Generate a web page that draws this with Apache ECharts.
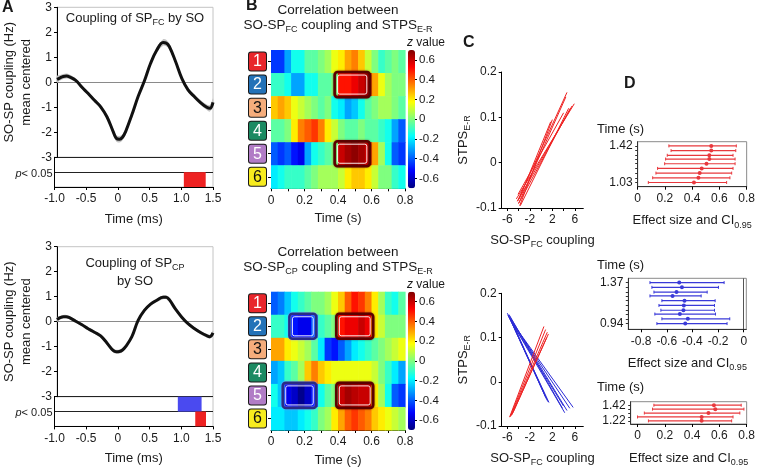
<!DOCTYPE html>
<html><head><meta charset="utf-8">
<script src="https://cdn.jsdelivr.net/npm/echarts@6/dist/echarts.min.js"></script>
<style>html,body{margin:0;padding:0;background:#fff}#c{width:758px;height:468px}</style>
</head><body><div id="c"></div><script>
// ---------------- DATA ----------------
const timeA = [-1.0,-0.95,-0.9,-0.85,-0.8,-0.7,-0.6,-0.5,-0.4,-0.3,-0.2,-0.1,-0.05,0,0.05,0.1,0.2,0.3,0.4,0.5,0.6,0.7,0.75,0.8,0.9,1.0,1.1,1.2,1.3,1.4,1.45,1.5];
const couplingFC = [0.12,0.18,0.23,0.25,0.22,0.08,-0.2,-0.45,-0.72,-0.98,-1.38,-1.97,-2.24,-2.28,-2.2,-1.97,-1.3,-0.57,0.05,0.76,1.29,1.59,1.57,1.43,0.83,0.16,-0.3,-0.57,-0.81,-1.0,-1.04,-0.8];
const semFC = [0.13,0.11,0.1,0.1,0.09,0.08,0.08,0.08,0.08,0.09,0.1,0.12,0.13,0.13,0.12,0.11,0.1,0.1,0.1,0.1,0.11,0.13,0.13,0.12,0.1,0.1,0.09,0.09,0.1,0.11,0.13,0.15];
const couplingCP = [0.09,0.16,0.2,0.2,0.16,0.02,-0.12,-0.28,-0.42,-0.57,-0.85,-1.15,-1.2,-1.19,-1.13,-1.0,-0.6,0.05,0.45,0.7,0.86,0.98,0.98,0.88,0.5,0.18,-0.08,-0.27,-0.43,-0.56,-0.6,-0.45];
const semCP = [0.08,0.07,0.07,0.07,0.06,0.06,0.06,0.06,0.06,0.06,0.07,0.08,0.08,0.08,0.08,0.07,0.07,0.07,0.07,0.07,0.07,0.08,0.08,0.08,0.07,0.07,0.06,0.06,0.07,0.07,0.08,0.1];
// significance intervals: [start, end, row(0=upper,1=lower), sign]
const sigFC = [[1.04, 1.385, 1, 1]];
const sigCP = [[0.945, 1.32, 0, -1], [1.22, 1.39, 1, 1]];

const timeBins = [0,0.04,0.08,0.12,0.16,0.2,0.24,0.28,0.32,0.36,0.4,0.44,0.48,0.52,0.56,0.6,0.64,0.68,0.72,0.76];
const rowLabels = ['1','2','3','4','5','6'];
const zFC = [
 [-0.45,-0.45,-0.3,-0.15,-0.15,-0.05,-0.05,0,0.05,0.15,0.2,0.3,0.35,0.25,0.1,0,-0.1,-0.05,0,-0.05],
 [-0.1,-0.1,-0.15,-0.3,-0.3,-0.15,-0.15,-0.05,-0.05,0,0.5,0.5,0.55,0.6,0.65,0.3,0.15,0.05,0,0],
 [0.25,0.3,0.25,0.15,0.1,0.05,0,-0.05,0,-0.15,-0.2,-0.3,-0.25,-0.15,-0.05,0,0.05,0.05,0,-0.05],
 [-0.05,-0.05,0,0.2,0.35,0.4,0.45,0.35,0.2,0.1,0,-0.05,-0.05,0,-0.05,-0.05,-0.1,-0.15,-0.3,-0.4],
 [-0.4,-0.45,-0.4,-0.5,-0.55,-0.3,-0.15,-0.1,-0.05,0,0.6,0.65,0.68,0.65,0.6,0.3,0.05,-0.15,-0.4,-0.45],
 [-0.2,-0.15,-0.1,-0.1,-0.1,-0.05,0,0.05,0.05,0.05,0.1,0.2,0.25,0.25,0.2,0.1,0,0,-0.1,-0.15]
];
const zCP = [
 [-0.4,-0.35,-0.25,-0.15,-0.1,-0.05,0,0,0.05,0.15,0.25,0.4,0.5,0.45,0.35,0.2,0.05,-0.1,-0.15,-0.05],
 [-0.1,-0.1,-0.15,-0.5,-0.55,-0.55,-0.4,-0.1,-0.05,0,0.5,0.55,0.55,0.6,0.55,0.2,0.1,0,0,0],
 [0.3,0.3,0.2,0.15,0.1,0.05,-0.05,-0.2,-0.45,-0.5,-0.4,-0.3,-0.2,-0.15,-0.1,-0.05,0,0.05,0.1,0.15],
 [-0.3,-0.25,-0.1,-0.05,0.05,0.25,0.35,0.25,0.2,0.15,0.15,0.15,0.15,0.15,0.15,0.1,0,-0.1,-0.2,-0.3],
 [-0.15,-0.25,-0.55,-0.6,-0.68,-0.6,-0.5,-0.15,-0.05,0,0.6,0.65,0.62,0.6,0.6,0.2,0.05,-0.15,-0.4,-0.45],
 [-0.2,-0.2,-0.25,-0.25,-0.2,-0.15,-0.1,0,0.05,0.2,0.3,0.4,0.45,0.4,0.35,0.25,0.2,0.15,0.1,0.05]
];
// significant clusters: [row, tStart, tEnd, sign]
const boxesFC = [[1,0.38,0.59,1],[4,0.38,0.59,1]];
const boxesCP = [[1,0.11,0.27,-1],[1,0.39,0.61,1],[4,0.07,0.27,-1],[4,0.39,0.61,1]];

// regression lines: [x0, y0, x1, y1]
const linesTopRed = [
 [-4.2,-0.085,4.6,0.155],[-4.0,-0.09,4.4,0.145],[-3.8,-0.095,2.0,0.095],[-3.9,-0.08,1.7,0.09],
 [-4.4,-0.08,5.9,0.13],[-4.2,-0.085,5.5,0.125],[-4.0,-0.09,5.2,0.12],[-3.7,-0.095,4.9,0.12],[-4.1,-0.07,4.0,0.11]
];
const linesBotBlue = [
 [-6.0,0.155,1.4,-0.047],[-5.8,0.15,1.0,-0.04],[-5.6,0.145,0.8,-0.035],[-5.9,0.15,4.2,-0.07],[-5.6,0.148,4.6,-0.065],
 [-5.4,0.14,5.1,-0.06],[-5.2,0.135,5.7,-0.058],[-5.0,0.13,4.0,-0.055],[-5.7,0.152,3.8,-0.06],[-5.3,0.14,1.2,-0.045]
];
const linesBotRed = [
 [-5.6,-0.08,0.5,0.125],[-5.4,-0.078,1.1,0.112],[-5.2,-0.075,1.3,0.108],[-5.0,-0.07,1.0,0.1],[-5.5,-0.079,0.8,0.118]
];

// effect sizes: time, lower CI, mean, upper CI
const dTopTime = [1.42,1.37,1.32,1.28,1.23,1.18,1.13,1.08,1.03];
const dTopLo   = [0.229,0.245,0.217,0.205,0.198,0.146,0.134,0.11,0.078];
const dTopMean = [0.54,0.54,0.526,0.526,0.505,0.47,0.455,0.446,0.413];
const dTopHi   = [0.724,0.72,0.70,0.715,0.715,0.70,0.69,0.677,0.653];
const dMidTime = [1.37,1.32,1.27,1.23,1.18,1.13,1.08,1.04,0.99,0.94];
const dMidLo   = [-0.731,-0.716,-0.70,-0.731,-0.638,-0.661,-0.646,-0.693,-0.638,-0.677];
const dMidMean = [-0.503,-0.482,-0.524,-0.555,-0.462,-0.467,-0.47,-0.498,-0.436,-0.456];
const dMidHi   = [-0.153,-0.197,-0.285,-0.332,-0.223,-0.228,-0.228,-0.22,-0.109,-0.13];
const dBotTime = [1.42,1.37,1.32,1.27,1.22];
const dBotLo   = [0.12,0.11,0.05,0.0,0.08];
const dBotMean = [0.56,0.57,0.52,0.47,0.47];
const dBotHi   = [0.76,0.78,0.75,0.70,0.69];

// ---------------- STYLE ----------------
const FONT = 'Liberation Sans, Arial, sans-serif';
const jet = ['#00007f','#0000ff','#007fff','#00ffff','#7fff7f','#ffff00','#ff7f00','#ff0000','#7f0000'];
const RED = '#ee2222', BLUE = '#4a4af0';
const rowColors = [['#e8262b','#fff'],['#2372b8','#fff'],['#f5ad7c','#111'],['#1b8a62','#fff'],['#b17cc6','#fff'],['#f7ec1e','#111']];
const grid = [], xAxis = [], yAxis = [], series = [], graphic = [], visualMap = [];
const lab = {color:'#1a1a1a', fontSize:12, fontFamily:FONT};
const blackLine = {show:true, onZero:false, lineStyle:{color:'#000', width:1}};
const greyLine = {show:true, onZero:false, lineStyle:{color:'#333', width:1}};
const outTick = {show:true, inside:false, length:3, lineStyle:{color:'#000'}};
const subRich = (fs) => ({n:{fontSize:fs, fontFamily:FONT, color:'#1a1a1a', lineHeight:18}, s:{fontSize:Math.round(fs*0.7), fontFamily:FONT, color:'#1a1a1a', verticalAlign:'bottom', lineHeight:18}, i:{fontSize:fs, fontFamily:FONT, fontStyle:'italic', color:'#1a1a1a', lineHeight:18}});
const fmt1 = v => v === 0 ? '0' : v.toFixed(1);
function addGrid(g){ grid.push(Object.assign({containLabel:false}, g)); return grid.length-1; }

// ---------------- PANEL A ----------------
function panelA(top, curve, sem, sig){
  const gm = addGrid({left:54.5, top:top, width:158.5, height:150, show:true, borderColor:'#c4c4c4', borderWidth:1});
  xAxis.push({gridIndex:gm, type:'value', min:-1, max:1.5, show:false});
  const xm = xAxis.length-1;
  yAxis.push({gridIndex:gm, type:'value', min:-3, max:3, interval:1, axisLine:blackLine, axisTick:outTick, splitLine:{show:false},
    axisLabel:Object.assign({margin:5}, lab),
    name:'SO-SP coupling (Hz)\nmean centered', nameLocation:'middle', nameGap:22,
    nameTextStyle:{fontSize:13, fontFamily:FONT, color:'#1a1a1a', lineHeight:17}});
  const ym = yAxis.length-1;
  series.push({type:'custom', xAxisIndex:xm, yAxisIndex:ym, silent:true, z:1,
    data: timeA.map((t,i)=>[t, curve[i]-sem[i], curve[i]+sem[i]]), encode:{x:0, y:[1,2]},
    renderItem:(p, api)=>{
      if (p.dataIndex !== 0) return null;
      const up = [], dn = [];
      timeA.forEach((t,i)=>{ up.push(api.coord([t, curve[i]+sem[i]])); dn.push(api.coord([t, curve[i]-sem[i]])); });
      return {type:'polygon', shape:{points: up.concat(dn.reverse()), smooth:0.35}, style:{fill:'#c4c4c4'}};
    },
    markLine:{symbol:'none', silent:true, label:{show:false}, lineStyle:{color:'#8a8a8a', width:1, type:'solid'}, data:[{yAxis:0}]}});
  series.push({type:'line', xAxisIndex:xm, yAxisIndex:ym, data:timeA.map((t,i)=>[t, curve[i]]), smooth:0.4, symbol:'none', lineStyle:{color:'#111', width:3}, z:5, silent:true});
  const gs = addGrid({left:54.5, top:top+150, width:158.5, height:29.7, show:true, borderColor:'#c4c4c4', borderWidth:1});
  xAxis.push({gridIndex:gs, type:'value', min:-1, max:1.5, interval:0.5, axisLine:blackLine, axisTick:outTick, splitLine:{show:false},
    axisLabel:Object.assign({formatter:fmt1, margin:6}, lab),
    name:'Time (ms)', nameLocation:'middle', nameGap:26, nameTextStyle:{fontSize:13, fontFamily:FONT, color:'#1a1a1a'}});
  const xs = xAxis.length-1;
  yAxis.push({gridIndex:gs, type:'value', min:0, max:2, interval:1, inverse:true, axisLine:blackLine, axisTick:{show:false},
    splitLine:{show:true, lineStyle:{color:'#222', width:1}},
    axisLabel:{customValues:[1], margin:2, formatter:()=> '{i|p}{n|< 0.05}', rich:{i:{fontSize:11, fontStyle:'italic', fontFamily:FONT, color:'#1a1a1a'}, n:{fontSize:11, fontFamily:FONT, color:'#1a1a1a'}}, padding:[3,0,0,0]}});
  const ys = yAxis.length-1;
  series.push({type:'custom', xAxisIndex:xs, yAxisIndex:ys, data:sig, encode:{x:[0,1], y:2}, silent:true,
    renderItem:(p, api)=>{
      const a = api.coord([api.value(0), api.value(2)]);
      const b = api.coord([api.value(1), api.value(2)+1]);
      return {type:'rect', shape:{x:a[0], y:a[1], width:b[0]-a[0], height:b[1]-a[1]}, style:{fill: api.value(3) > 0 ? RED : BLUE}};
    }});
}
panelA(7.3, couplingFC, semFC, sigFC);
panelA(246.7, couplingCP, semCP, sigCP);

// ---------------- PANEL B ----------------
function richRows(){
  const r = {};
  rowColors.forEach((c,i)=>{ r['r'+i] = {backgroundColor:c[0], color:c[1], borderColor:'#1a1a1a', borderWidth:1, borderRadius:2, width:15, height:17, lineHeight:18, align:'center', fontSize:16, fontFamily:FONT, padding:[1,1,0,1]}; });
  return r;
}
function panelB(top, z, boxes){
  const g = addGrid({left:271, top:top, width:134, height:138.3});
  xAxis.push({gridIndex:g, type:'value', min:0, max:0.8, axisLine:blackLine, axisTick:Object.assign({customValues:[0,0.1,0.2,0.3,0.4,0.5,0.6,0.7,0.8]}, outTick),
    splitLine:{show:false}, axisLabel:Object.assign({customValues:[0,0.2,0.4,0.6,0.8], margin:6}, lab),
    name:'Time (s)', nameLocation:'middle', nameGap:24, nameTextStyle:{fontSize:13, fontFamily:FONT, color:'#1a1a1a'}});
  const xi = xAxis.length-1;
  yAxis.push({gridIndex:g, type:'category', data:rowLabels, inverse:true, axisLine:{show:false}, axisTick:Object.assign({alignWithLabel:true}, outTick),
    axisLabel:{formatter:(v,i)=>`{r${i}|${v}}`, rich:richRows(), margin:5}});
  const yi = yAxis.length-1;
  const data = [];
  z.forEach((row, r)=> row.forEach((v, c)=> data.push([timeBins[c], r, v])));
  series.push({type:'custom', xAxisIndex:xi, yAxisIndex:yi, data:data, encode:{x:0, y:1}, silent:true,
    renderItem:(p, api)=>{
      const c = api.coord([api.value(0), api.value(1)]);
      const s = api.size([timeBins[1]-timeBins[0], 1]);
      return {type:'rect', shape:{x:c[0], y:c[1]-s[1]/2, width:s[0]+0.6, height:s[1]+0.6}, style:{fill:api.visual('color')}};
    }});
  const heatIdx = series.length-1;
  series.push({type:'custom', xAxisIndex:xi, yAxisIndex:yi, data:boxes, encode:{x:[1,2], y:0}, silent:true, z:10,
    renderItem:(p, api)=>{
      const a = api.coord([api.value(1), api.value(0)]);
      const s = api.size([api.value(2)-api.value(1), 1]);
      const x = a[0], y = a[1]-s[1]/2-1, w = s[0], h = s[1]+2;
      const pos = api.value(3) > 0;
      return {type:'group', children:[
        {type:'rect', shape:{x:x, y:y, width:w, height:h, r:3}, style:{fill:null, stroke: pos ? '#5c0000' : '#2a2a86', lineWidth:2.6, shadowBlur:2, shadowColor: pos ? 'rgba(80,0,0,0.6)' : 'rgba(150,150,255,0.9)'}},
        {type:'rect', shape:{x:x+3, y:y+3, width:w-6, height:h-6, r:2}, style:{fill:null, stroke:'#ffffff', lineWidth:1, opacity:0.9}}
      ]};
    }});
  visualMap.push({type:'continuous', min:-0.7, max:0.7, seriesIndex:heatIdx, dimension:2, calculable:false, hoverLink:false,
    inRange:{color:jet}, itemWidth:7, itemHeight:138.3, left:408, top:top, padding:0, orient:'vertical'});
  const gc = addGrid({left:408, top:top, width:7, height:138.3});
  xAxis.push({gridIndex:gc, type:'value', show:false, min:0, max:1});
  yAxis.push({gridIndex:gc, type:'value', position:'right', min:-0.7, max:0.7, axisLine:{show:false, onZero:false},
    axisTick:{show:true, length:2, customValues:[-0.6,-0.4,-0.2,0,0.2,0.4,0.6], lineStyle:{color:'#000'}},
    splitLine:{show:false}, axisLabel:Object.assign({customValues:[-0.6,-0.4,-0.2,0,0.2,0.4,0.6], margin:4, formatter:v=> v===0?'0':String(Math.round(v*10)/10)}, lab, {fontSize:11.5})});
}
panelB(50, zFC, boxesFC);
panelB(291.7, zCP, boxesCP);

// ---------------- PANEL C ----------------
function panelC(top, groups){
  const g = addGrid({left:501.7, top:top, width:81.6, height:136});
  xAxis.push({gridIndex:g, type:'value', min:-7, max:7.5, axisLine:blackLine, axisTick:Object.assign({customValues:[-6,-4,-2,0,2,4,6]}, outTick),
    splitLine:{show:false}, axisLabel:Object.assign({customValues:[-6,-2,2,6], margin:6}, lab),
    name:'{n|SO-SP}{s|FC}{n| coupling}', nameLocation:'middle', nameGap:23, nameTextStyle:{rich:subRich(13)}});
  const xi = xAxis.length-1;
  yAxis.push({gridIndex:g, type:'value', min:-0.1, max:0.2, interval:0.1, axisLine:blackLine, axisTick:outTick, splitLine:{show:false},
    axisLabel:Object.assign({margin:5, formatter:v=> v===0?'0':v.toFixed(1)}, lab),
    name:'{n|STPS}{s|E-R}', nameLocation:'middle', nameGap:24, nameTextStyle:{rich:subRich(13)}});
  const yi = yAxis.length-1;
  groups.forEach(([lines, color])=> lines.forEach(l=>{
    series.push({type:'line', xAxisIndex:xi, yAxisIndex:yi, data:[[l[0],l[1]],[l[2],l[3]]], symbol:'none', silent:true, lineStyle:{color:color, width:1}});
  }));
}
panelC(72, [[linesTopRed, RED]]);
panelC(293.3, [[linesBotBlue, '#2b2bd6'], [linesBotRed, RED]]);

// ---------------- PANEL D ----------------
function panelD(box, xr, xTicks, yr, times, lo, mean, hi, color, zeroLine){
  const g = addGrid({left:box[0], top:box[1], width:box[2], height:box[3], show:true, borderColor:'#8a8a8a', borderWidth:1});
  xAxis.push({gridIndex:g, type:'value', min:xr[0], max:xr[1], axisLine:greyLine, axisTick:Object.assign({customValues:xTicks}, outTick),
    splitLine:{show:false}, axisLabel:Object.assign({customValues:xTicks, margin:6, formatter:fmt1}, lab),
    name:'{n|Effect size and CI}{s|0.95}', nameLocation:'middle', nameGap:25, nameTextStyle:{rich:subRich(13)}});
  const xi = xAxis.length-1;
  yAxis.push({gridIndex:g, type:'value', min:yr[0], max:yr[1], axisLine:greyLine,
    axisTick:{show:true, length:2.5, customValues:times, lineStyle:{color:'#333'}}, splitLine:{show:false},
    axisLabel:Object.assign({customValues:[times[0], times[times.length-1]], margin:5, formatter:v=>v.toFixed(2)}, lab)});
  const yi = yAxis.length-1;
  const s = {type:'custom', xAxisIndex:xi, yAxisIndex:yi, silent:true, encode:{x:[0,1,2], y:3},
    data: times.map((t,i)=>[lo[i], mean[i], hi[i], t]),
    renderItem:(p, api)=>{
      const t = api.value(3);
      const a = api.coord([api.value(0), t]), m = api.coord([api.value(1), t]), b = api.coord([api.value(2), t]);
      return {type:'group', children:[
        {type:'line', shape:{x1:a[0], y1:a[1], x2:b[0], y2:b[1]}, style:{stroke:color, lineWidth:1.2}},
        {type:'line', shape:{x1:a[0], y1:a[1]-1.5, x2:a[0], y2:a[1]+1.5}, style:{stroke:color, lineWidth:1}},
        {type:'line', shape:{x1:b[0], y1:b[1]-1.5, x2:b[0], y2:b[1]+1.5}, style:{stroke:color, lineWidth:1}},
        {type:'circle', shape:{cx:m[0], cy:m[1], r:2}, style:{fill:color}}
      ]};
    }};
  if (zeroLine) s.markLine = {symbol:'none', silent:true, label:{show:false}, lineStyle:{color:'#555', width:1, type:'solid'}, data:[{xAxis:0}]};
  series.push(s);
}
panelD([637.7,141.7,113,45], [0,0.8], [0,0.2,0.4,0.6,0.8], [0.985,1.465], dTopTime, dTopLo, dTopMean, dTopHi, '#e8383d', false);
panelD([628.3,278.3,118,51], [-0.9,0.02], [-0.8,-0.6,-0.4,-0.2,0], [0.88,1.415], dMidTime, dMidLo, dMidMean, dMidHi, '#3a3ad8', true);
panelD([630.7,401.7,119.3,27.3], [-0.05,0.8], [0,0.2,0.4,0.6,0.8], [1.18,1.465], dBotTime, dBotLo, dBotMean, dBotHi, '#e8383d', false);

// ---------------- TEXT ----------------
const txt = (x, y, text, opt) => graphic.push(Object.assign({type:'text', x:x, y:y, silent:true,
  style:Object.assign({text:text, font:`13px ${FONT}`, fill:'#1a1a1a', align:'center', verticalAlign:'middle', rich:subRich(13)}, opt||{})}));
[['A',2,8],['B',246,6],['C',463,43],['D',624,84]].forEach(p=> txt(p[1], p[2], p[0], {font:`bold 16px ${FONT}`, align:'left', rich:null}));
txt(135, 18, '{n|Coupling of SP}{s|FC}{n| by SO}');
txt(135, 263, '{n|Coupling of SP}{s|CP}');
txt(135, 281, '{n|by SO}');
const richB = subRich(13.5);
txt(338, 10, '{n|Correlation between}', {rich:richB});
txt(338, 25, '{n|SO-SP}{s|FC}{n| coupling and STPS}{s|E-R}', {rich:richB});
txt(338, 252, '{n|Correlation between}', {rich:richB});
txt(338, 267, '{n|SO-SP}{s|CP}{n| coupling and STPS}{s|E-R}', {rich:richB});
const zr = {i:{fontSize:12, fontStyle:'italic', fontFamily:FONT, fill:'#1a1a1a'}, n:{fontSize:12, fontFamily:FONT, fill:'#1a1a1a'}};
txt(426, 43, '{i|z}{n| value}', {rich:zr});
txt(426, 285, '{i|z}{n| value}', {rich:zr});
txt(597, 129, 'Time (s)', {align:'left'});
txt(597, 265, 'Time (s)', {align:'left'});
txt(597, 387, 'Time (s)', {align:'left'});

const chart = echarts.init(document.getElementById('c'), null, {renderer:'canvas'});
chart.setOption({animation:false, backgroundColor:'#fff', textStyle:{fontFamily:FONT}, grid, xAxis, yAxis, series, visualMap, graphic});
</script></body></html>
